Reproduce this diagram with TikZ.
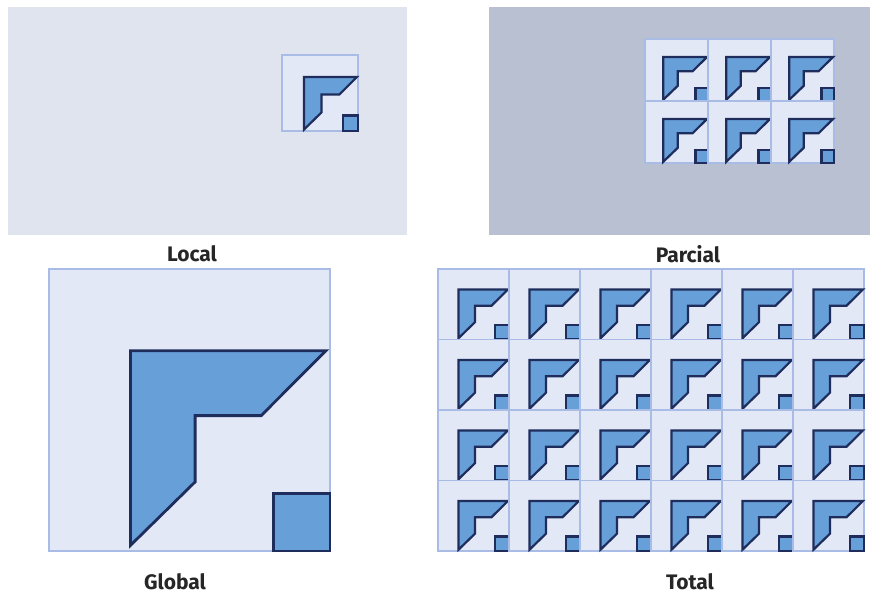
\documentclass[tikz,border=0pt]{standalone}
\usepackage{fontspec}
\setmainfont{Fira Sans}
\definecolor{panelA}{HTML}{E0E4EE}
\definecolor{panelB}{HTML}{B8C0D2}
\definecolor{tilefill}{HTML}{E3E8F7}
\definecolor{tileline}{HTML}{A9BCE6}
\definecolor{shapefill}{HTML}{67A0D8}
\definecolor{shapeline}{HTML}{1E2D5C}
\tikzset{
	tilebox/.style={fill=tilefill, draw=tileline, line width=1.8pt},
	motif/.style={fill=shapefill, draw=shapeline, line join=miter},
	caption/.style={font=\fontsize{21}{25}\selectfont\bfseries, text=black!85, inner sep=0pt}
}
% tile: x, y, width, height, outline width
\newcommand{\tile}[5]{%
	\begin{scope}[shift={(#1,#2)}, xscale=#3, yscale=#4]
		\draw[tilebox] (0,0) rectangle (1,1);
		\draw[motif, line width=#5] (0.29,0.29) -- (0.985,0.29) -- (0.755,0.52) -- (0.52,0.52) -- (0.52,0.755) -- (0.29,0.98) -- cycle;
		\draw[motif, line width=#5] (0.80,0.795) rectangle (1,1);
	\end{scope}}
\begin{document}
\begin{tikzpicture}[x=1pt, y=-1pt]
	\useasboundingbox[fill=white] (0,0) rectangle (870,597);
	% 1. fonds des panneaux du haut
	\fill[panelA] (8,7) rectangle (407,235);
	\fill[panelB] (489,7) rectangle (870,235);
	
	% 2. Local : une seule tuile
	\tile{282}{55}{76}{76}{2.2pt}
	
	% 3. Parcial : 3 x 2 tuiles
	\foreach \j in {0,1}
		\foreach \i in {0,1,2}
			{\tile{645+63*\i}{39+62*\j}{63}{62}{2.2pt}}
	
	% 4. Global : une grande tuile
	\tile{49}{269}{281}{282}{2.8pt}
	
	% 5. Total : 6 x 4 tuiles
	\foreach \j in {0,...,3}
		\foreach \i in {0,...,5}
			{\tile{438+71*\i}{269+70.5*\j}{71}{70.5}{2.2pt}}
	
	% 6. légendes
	\node[caption] (local) at (192,254) {Local};
	\node[caption] (parcial) at (688,254) {Parcial};
	\node[caption] (global) at (175,582) {Global};
	\node[caption] (total) at (690,582) {Total};
\end{tikzpicture}
\end{document}
